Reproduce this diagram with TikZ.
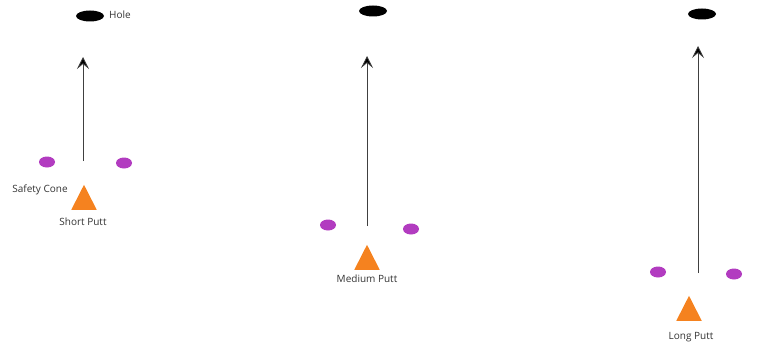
\documentclass[tikz,border=0pt]{standalone}
\usepackage{fontspec}
\setmainfont{Open Sans}
\usetikzlibrary{shapes.geometric,arrows.meta}
\definecolor{conepurple}{HTML}{B23CC0}
\definecolor{teeorange}{HTML}{F5821F}
\definecolor{labelgray}{HTML}{333333}
\tikzset{
  holeshape/.style={ellipse,fill=black,minimum width=28pt,minimum height=11pt,inner sep=0pt},
  conedot/.style={ellipse,fill=conepurple,minimum width=16pt,minimum height=11pt,inner sep=0pt},
  teetri/.style={isosceles triangle,isosceles triangle apex angle=54,shape border rotate=90,fill=teeorange,minimum height=25pt,inner sep=0pt},
  lbl/.style={font=\fontsize{10pt}{12pt}\selectfont,text=labelgray,inner sep=0pt},
  puttarrow/.style={draw=black!75,line width=0.7pt,-{Stealth[length=12pt,width=12pt,inset=5pt,fill=black]}}
}
\begin{document}
\begin{tikzpicture}[x=1pt,y=-1pt]
\useasboundingbox (0,0) rectangle (783,345);
% Short putt
\node[holeshape] (h1) at (90,16) {};
\node[lbl,anchor=west] (hl) at (109,15) {Hole};
\coordinate (s1) at (83,161);
\coordinate (e1) at (83,57);
\draw[puttarrow] (s1) -- (e1);
\node[conedot] (c1l) at (47,162) {};
\node[conedot] (c1r) at (124,163) {};
\node[teetri] (t1) at (84,202) {};
\node[lbl] (sc) at (40,190) {Safety Cone};
\node[lbl] (sp) at (83,222) {Short Putt};
% Medium putt
\node[holeshape] (h2) at (373,11) {};
\coordinate (s2) at (367,226);
\coordinate (e2) at (367,56);
\draw[puttarrow] (s2) -- (e2);
\node[conedot] (c2l) at (328,225) {};
\node[conedot] (c2r) at (411,229) {};
\node[teetri] (t2) at (367,262) {};
\node[lbl] (mp) at (367,279) {Medium Putt};
% Long putt
\node[holeshape] (h3) at (702,14) {};
\coordinate (s3) at (698,273);
\coordinate (e3) at (698,46);
\draw[puttarrow] (s3) -- (e3);
\node[conedot] (c3l) at (658,272) {};
\node[conedot] (c3r) at (734,274) {};
\node[teetri] (t3) at (689,313) {};
\node[lbl] (lp) at (691,337) {Long Putt};
\end{tikzpicture}
\end{document}
